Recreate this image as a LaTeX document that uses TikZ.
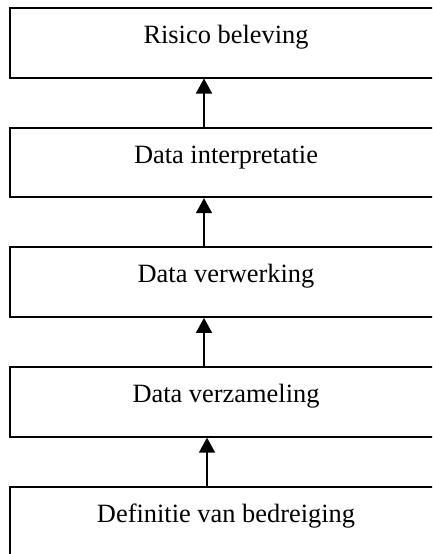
\documentclass[tikz,border=0pt]{standalone}
\usepackage{fontspec}
\setmainfont{Liberation Serif}
\usetikzlibrary{arrows.meta}
\begin{document}
\begin{tikzpicture}[x=1pt,y=1pt,
  stage/.style={draw=black, line width=2pt, inner sep=0pt,
    minimum width=432pt, text height=35.5pt, text depth=34pt,
    font=\fontsize{26.4}{30}\selectfont},
  flow/.style={line width=1.5pt, -{Triangle[width=16pt,length=15pt]}}]
  \useasboundingbox (0,0) rectangle (432,-554);
  \clip (0,0) rectangle (432,-554);
  % stages, bottom one is the starting point
  \node[stage, anchor=north] (s1) at (226,-7)     {Risico beleving};
  \node[stage, anchor=north] (s2) at (226,-126.7) {Data interpretatie};
  \node[stage, anchor=north] (s3) at (226,-246.4) {Data verwerking};
  \node[stage, anchor=north] (s4) at (226,-366.1) {Data verzameling};
  \node[stage, anchor=north] (s5) at (226,-485.8) {Definitie van bedreiging};
  % arrow columns
  \coordinate (ca) at (204,0);
  \coordinate (cb) at (207,0);
  \draw[flow] (s2.north -| ca) -- (s1.south -| ca);
  \draw[flow] (s3.north -| ca) -- (s2.south -| ca);
  \draw[flow] (s4.north -| ca) -- (s3.south -| ca);
  \draw[flow] (s5.north -| cb) -- (s4.south -| cb);
\end{tikzpicture}
\end{document}
